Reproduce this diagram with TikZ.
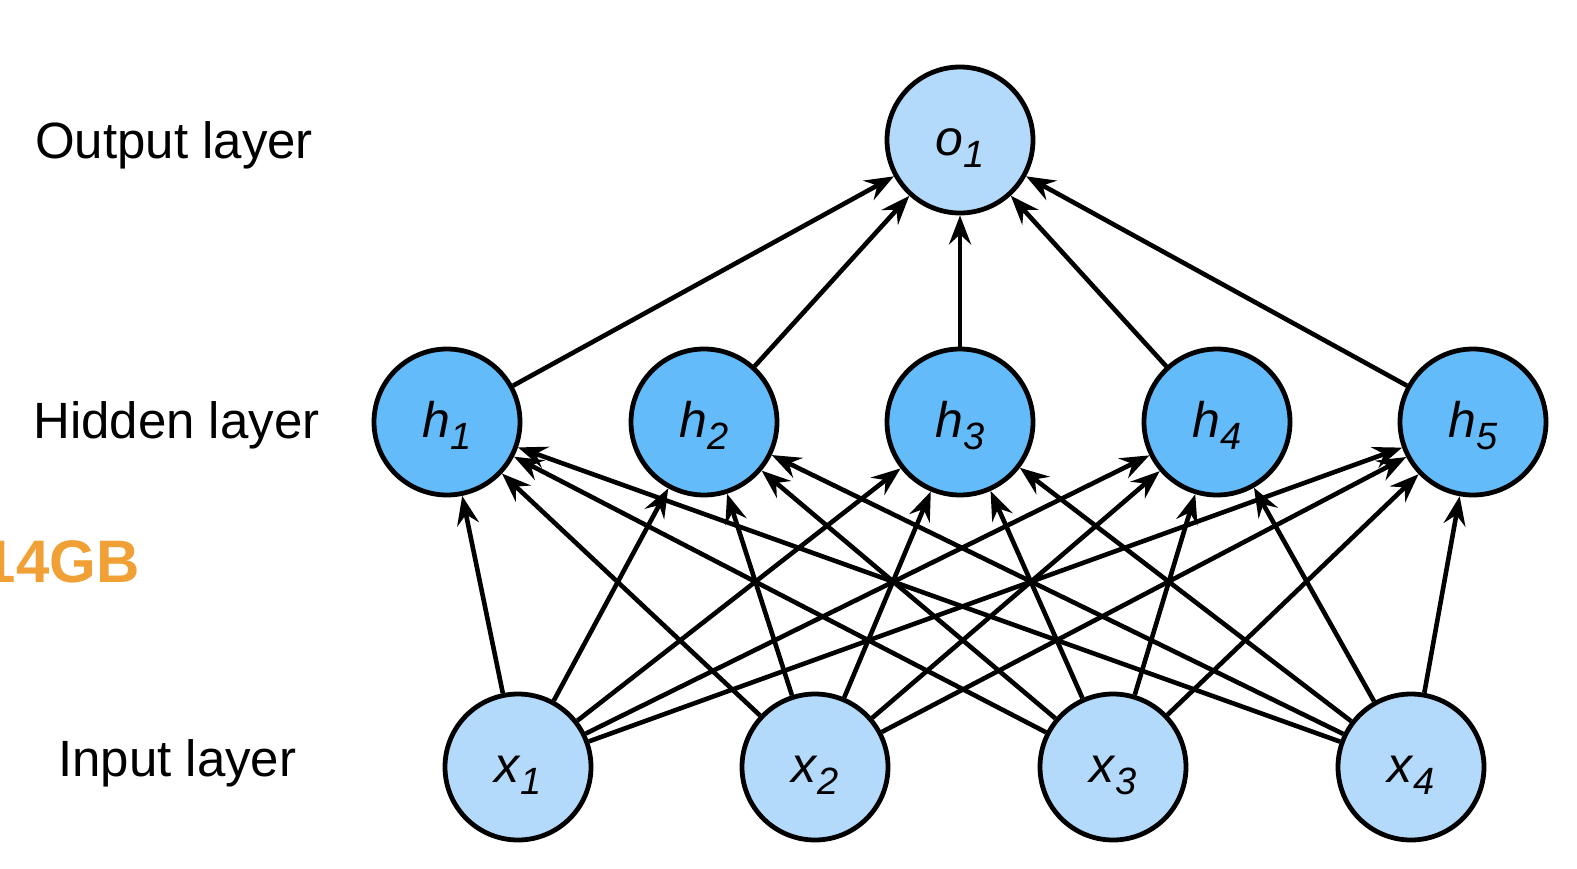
\documentclass[tikz,border=0pt]{standalone}
\usepackage{fontspec}
\setmainfont{Liberation Sans}
\usetikzlibrary{arrows.meta}
\definecolor{lightnode}{HTML}{B4DAFB}
\definecolor{hiddennode}{HTML}{63BBFA}
\definecolor{watermark}{HTML}{F0A035}
\newcommand{\nlab}[2]{{\fontsize{50}{50}\selectfont\itshape #1\hspace{1pt}\raisebox{-12pt}{\fontsize{38}{38}\selectfont #2}}}
\begin{document}
\begin{tikzpicture}[x=1pt,y=-1pt,
  neuron/.style={circle, draw=black, line width=4.8pt, minimum size=146pt, inner sep=0pt,
    text height=36pt, text depth=6pt},
  lightn/.style={neuron, fill=lightnode},
  hiddenn/.style={neuron, fill=hiddennode},
  layerlab/.style={font=\fontsize{51}{51}\selectfont, inner sep=0pt, anchor=base west},
  edge/.style={line width=4.6pt, -{Stealth[length=29pt, width=22pt, inset=10pt]}}
]
\useasboundingbox (0,0) rectangle (1577,868);
\clip (0,0) rectangle (1577,868);

% watermark
\node[font=\fontsize{60}{60}\selectfont\bfseries, text=watermark, inner sep=0pt, anchor=base west] (wm) at (-17.5,582) {14GB};

% layer labels
\node[layerlab] (lo) at (35,158) {Output layer};
\node[layerlab] (lh) at (33,438) {Hidden layer};
\node[layerlab] (li) at (58,776) {Input layer};

% nodes
\node[lightn] (o1) at (960,140) {\nlab{o}{1}};
\node[hiddenn] (h1) at (447,422) {\nlab{h}{1}};
\node[hiddenn] (h2) at (704,422) {\nlab{h}{2}};
\node[hiddenn] (h3) at (960,422) {\nlab{h}{3}};
\node[hiddenn] (h4) at (1217,422) {\nlab{h}{4}};
\node[hiddenn] (h5) at (1473,422) {\nlab{h}{5}};
\node[lightn] (x1) at (518,767) {\nlab{x}{1}};
\node[lightn] (x2) at (815,767) {\nlab{x}{2}};
\node[lightn] (x3) at (1113,767) {\nlab{x}{3}};
\node[lightn] (x4) at (1411,767) {\nlab{x}{4}};

% edges
\foreach \h in {h1,h2,h3,h4,h5} {
  \draw[edge] (\h) -- (o1);
  \foreach \x in {x1,x2,x3,x4} {
    \draw[edge] (\x) -- (\h);
  }
}
\end{tikzpicture}
\end{document}
